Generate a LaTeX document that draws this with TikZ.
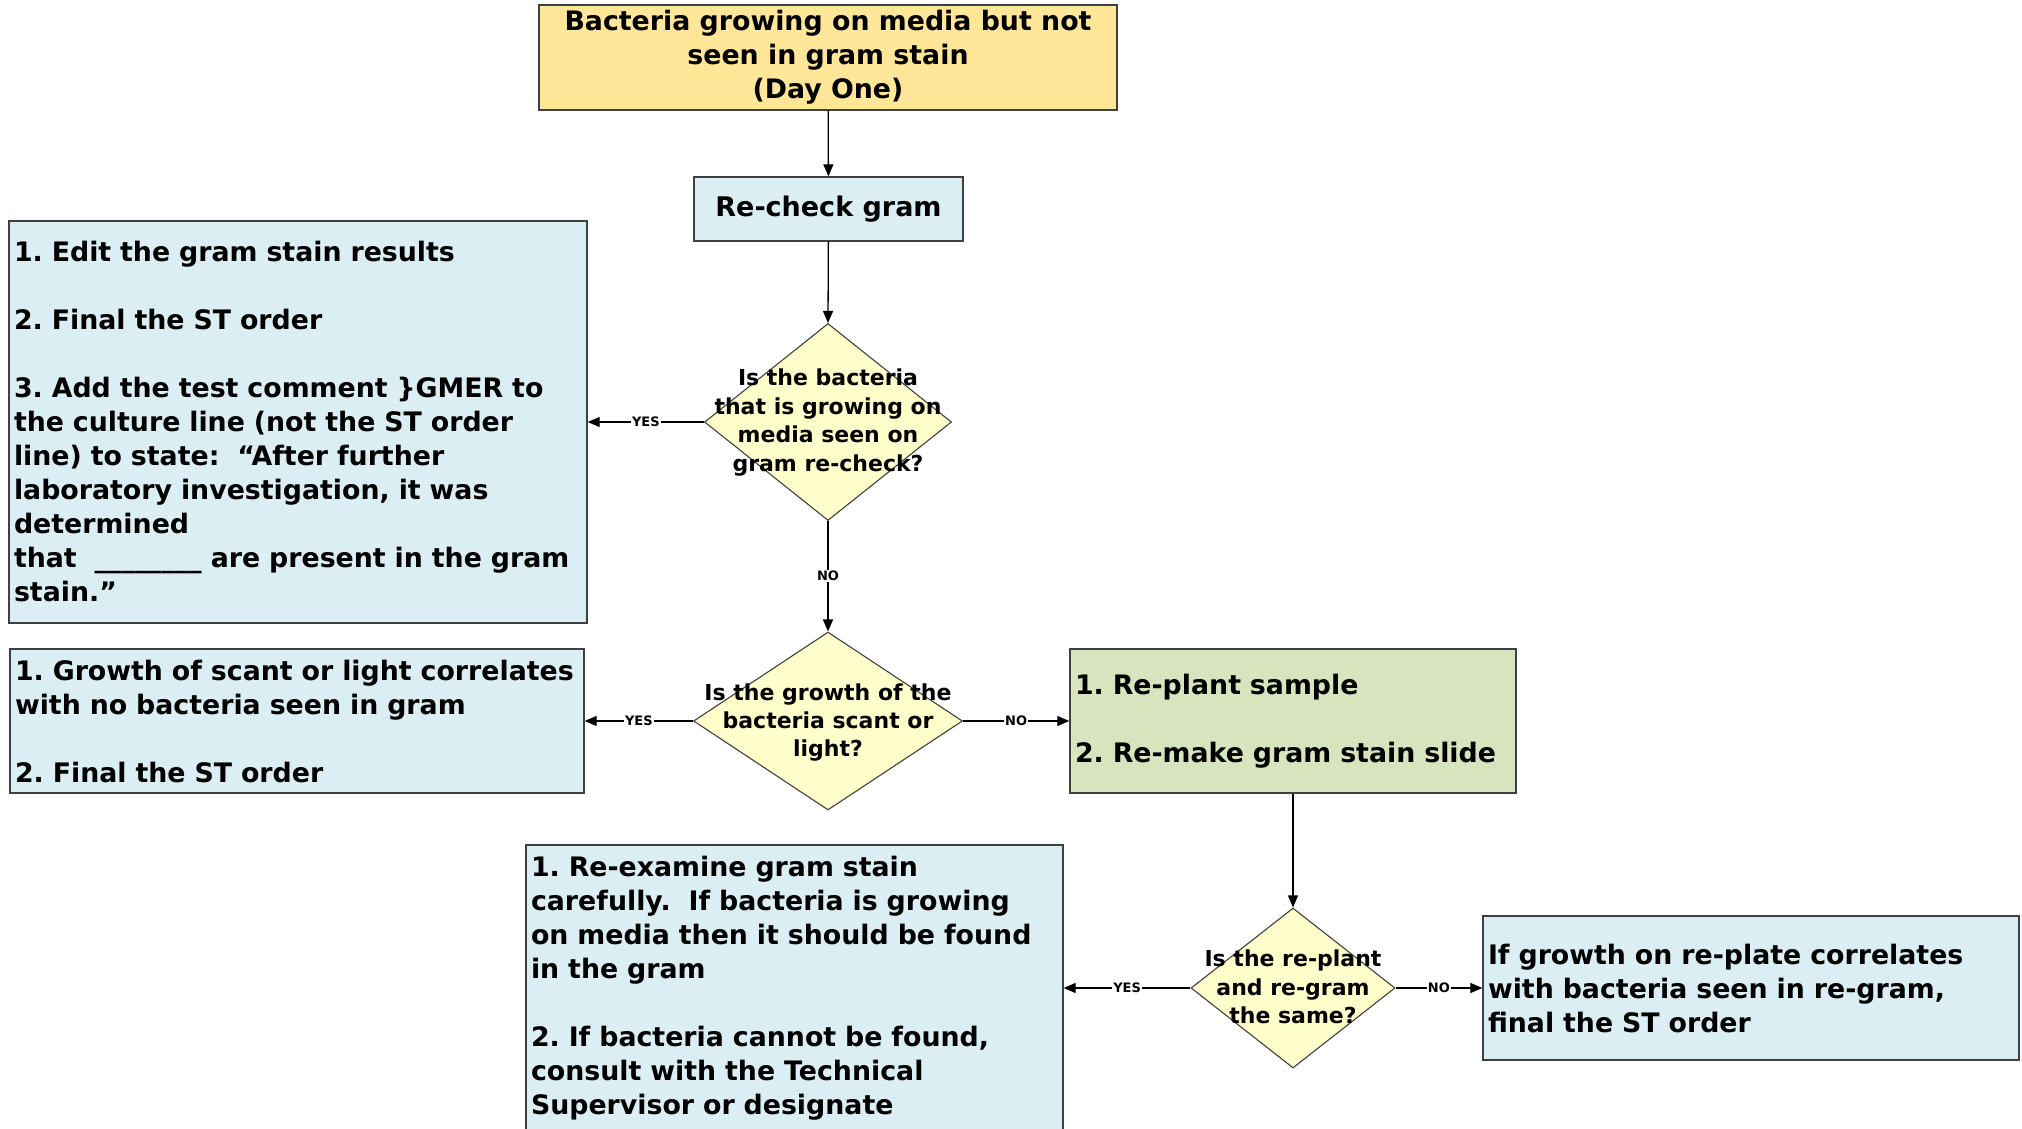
\documentclass[tikz,border=0pt]{standalone}
\usepackage{fontspec}
\setmainfont{DejaVu Sans}
\usetikzlibrary{shapes.geometric,arrows.meta}
\definecolor{orangefill}{HTML}{FFE699}
\definecolor{bluefill}{HTML}{DAEEF3}
\definecolor{greenfill}{HTML}{D7E4BD}
\definecolor{yellowfill}{HTML}{FFFFCC}
\definecolor{bordercol}{HTML}{404040}
\newcommand{\oneline}[1]{\mbox{#1}}
\frenchspacing
\begin{document}
\begin{tikzpicture}[x=1pt,y=-1pt,
  boxtext/.style={font=\frenchspacing\bfseries\fontsize{26.8}{34}\selectfont},
  textbox/.style={draw=bordercol, line width=1.4pt, rectangle, inner xsep=5pt, inner ysep=0pt, align=left, boxtext},
  decision/.style={draw=bordercol, line width=1.1pt, diamond, fill=yellowfill, inner sep=0pt},
  dtext/.style={align=center, font=\bfseries\fontsize{22}{28.4}\selectfont, inner sep=0pt},
  arr/.style={draw=black, line width=1.3pt, -{Triangle[length=12pt,width=10pt]}},
  lab/.style={fill=white, inner sep=1pt, font=\bfseries\fontsize{13}{13}\selectfont}
]
\useasboundingbox (0,0) rectangle (2022,1128);
\fill[white] (0,0) rectangle (2022,1128);

% top box
\node[textbox, fill=orangefill, align=center, minimum width=578pt, minimum height=105pt] (top) at (828,57.5)
  {Bacteria growing on media but not\\ seen in gram stain\\ (Day One)};

% re-check
\node[textbox, fill=bluefill, align=center, minimum width=269pt, minimum height=64pt, font=\bfseries\fontsize{27}{34}\selectfont] (recheck) at (828.5,209) {Re-check gram};

% decision 1
\node[decision, minimum width=247pt, minimum height=197pt] (d1) at (828,422) {};
\node[dtext] (d1t) at (828,422.5) {Is the bacteria\\ that is growing on\\ media seen on\\ gram re-check?};

% box 1
\node[textbox, fill=bluefill, text width=568pt, minimum height=402pt] (box1) at (298,422)
  {\oneline{1. Edit the gram stain results}\\[34pt]
   \oneline{2. Final the ST order}\\[34pt]
   \oneline{3. Add the test comment \}GMER to}\\
   \oneline{the culture line (not the ST order}\\
   \oneline{line) to state:\ \ “After further}\\
   \oneline{laboratory investigation, it was}\\
   \oneline{determined}\\
   \oneline{that\ \ \_\_\_\_\_\_\_\_ are present in the gram}\\
   \oneline{stain.”}};

% decision 2
\node[decision, minimum width=269pt, minimum height=178pt] (d2) at (828,721) {};
\node[dtext] (d2t) at (828,722.5) {Is the growth of the\\ bacteria scant or\\ light?};

% box 2
\node[textbox, fill=bluefill, text width=564pt, minimum height=144pt] (box2) at (297,721)
  {\oneline{1. Growth of scant or light correlates}\\
   \oneline{with no bacteria seen in gram}\\[34pt]
   \oneline{2. Final the ST order}};

% green box
\node[textbox, fill=greenfill, text width=436pt, minimum height=144pt] (green) at (1293,721)
  {\oneline{1. Re-plant sample}\\[34pt]
   \oneline{2. Re-make gram stain slide}};

% decision 3
\node[decision, minimum width=204pt, minimum height=160pt] (d3) at (1293,988) {};
\node[dtext] (d3t) at (1293,987) {Is the re-plant\\ and re-gram\\ the same?};

% bottom-left box
\node[textbox, fill=bluefill, text width=527pt, minimum height=287pt] (bl) at (794.5,988.5)
  {\oneline{1. Re-examine gram stain}\\
   \oneline{carefully.\ \ If bacteria is growing}\\
   \oneline{on media then it should be found}\\
   \oneline{in the gram}\\[34pt]
   \oneline{2. If bacteria cannot be found,}\\
   \oneline{consult with the Technical}\\
   \oneline{Supervisor or designate}};

% right box
\node[textbox, fill=bluefill, text width=526pt, minimum height=144pt] (right) at (1751,988)
  {\oneline{If growth on re-plate correlates}\\
   \oneline{with bacteria seen in re-gram,}\\
   \oneline{final the ST order}};

% connectors
\draw[arr] (top) -- (recheck);
\draw[arr] (recheck) -- (d1.north);
\draw[arr] (d1.west) -- node[lab] {YES} (box1.east);
\draw[arr] (d1.south) -- node[lab] {NO} (d2.north);
\draw[arr] (d2.west) -- node[lab] {YES} (box2.east);
\draw[arr] (d2.east) -- node[lab] {NO} (green.west);
\draw[arr] (green.south) -- (d3.north);
\draw[arr] (d3.west) -- node[lab] {YES} (d3.west -| bl.east);
\draw[arr] (d3.east) -- node[lab] {NO} (right.west);
\end{tikzpicture}
\end{document}
